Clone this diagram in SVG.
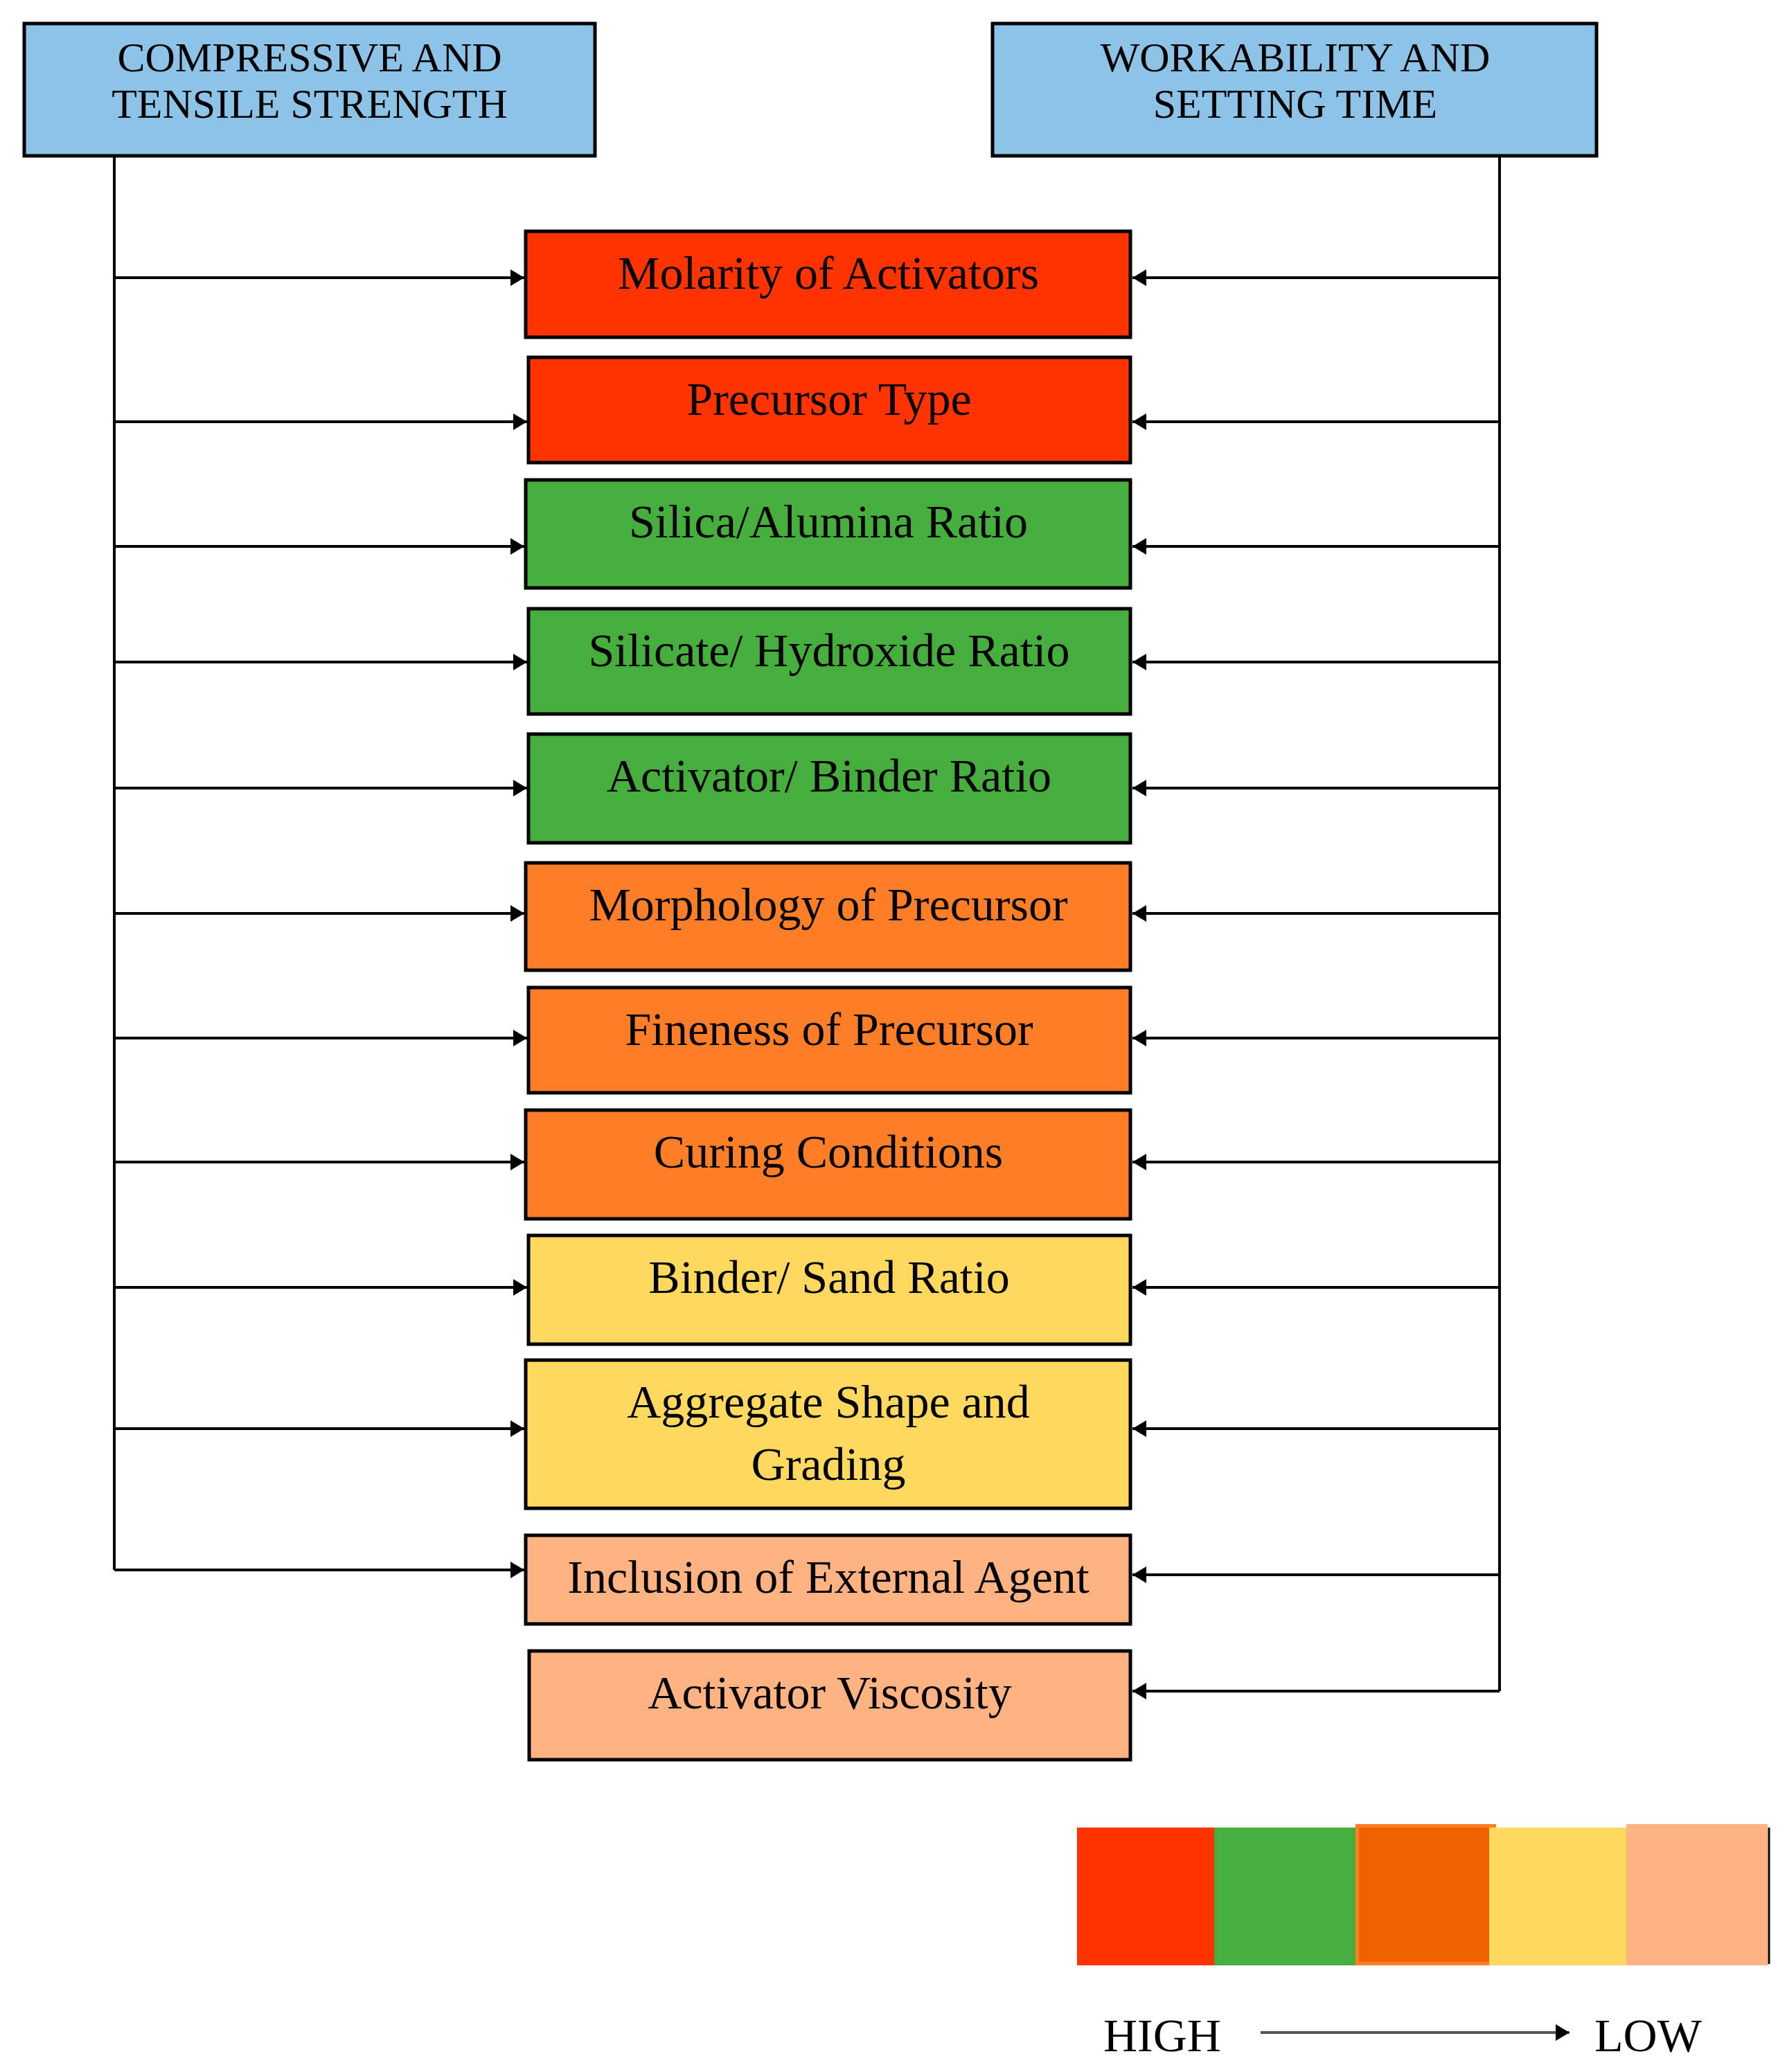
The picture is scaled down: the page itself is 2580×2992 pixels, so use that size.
<svg xmlns="http://www.w3.org/2000/svg" width="2580" height="2992" viewBox="0 0 2580 2992">
<style>
text{font-family:"Liberation Serif","Times New Roman",serif;fill:#000;text-anchor:middle}
.hdr rect{fill:#8DC3E6;stroke:#000;stroke-width:5}
.hdr text{font-size:60px}
.box rect{stroke:#000;stroke-width:5}
.box text{font-size:68px}
.red{fill:#FF3300}.green{fill:#46AE3C}.orange{fill:#FD7E27}.yellow{fill:#FFD95E}.peach{fill:#FFB282}
.conn line,.conn path{stroke:#000;stroke-width:4;fill:none}
.leg text{font-size:68px;text-anchor:start}
</style>
<defs>
<marker id="arr" markerUnits="userSpaceOnUse" markerWidth="22" markerHeight="26" refX="20" refY="12" orient="auto">
<path d="M0,0 L20,12 L0,24 Z" fill="#000"/>
</marker>
</defs>
<rect width="2580" height="2992" fill="#fff"/>
<g id="hdr-strength" class="hdr">
<rect x="35" y="34" width="824" height="191"/>
<text x="447" y="103">COMPRESSIVE AND</text>
<text x="447" y="170">TENSILE STRENGTH</text>
</g>
<g id="hdr-workability" class="hdr">
<rect x="1433" y="34" width="872" height="191"/>
<text x="1870" y="103">WORKABILITY AND</text>
<text x="1870" y="170">SETTING TIME</text>
</g>
<g id="connectors" class="conn">
<line x1="165" y1="225" x2="165" y2="2267"/>
<line x1="2165" y1="225" x2="2165" y2="2442"/>
<line x1="165" y1="401" x2="757" y2="401" marker-end="url(#arr)"/>
<line x1="165" y1="609" x2="761" y2="609" marker-end="url(#arr)"/>
<line x1="165" y1="789" x2="757" y2="789" marker-end="url(#arr)"/>
<line x1="165" y1="956" x2="761" y2="956" marker-end="url(#arr)"/>
<line x1="165" y1="1138" x2="761" y2="1138" marker-end="url(#arr)"/>
<line x1="165" y1="1319" x2="757" y2="1319" marker-end="url(#arr)"/>
<line x1="165" y1="1499" x2="761" y2="1499" marker-end="url(#arr)"/>
<line x1="165" y1="1678" x2="757" y2="1678" marker-end="url(#arr)"/>
<line x1="165" y1="1859" x2="761" y2="1859" marker-end="url(#arr)"/>
<line x1="165" y1="2063" x2="757" y2="2063" marker-end="url(#arr)"/>
<line x1="165" y1="2267" x2="757" y2="2267" marker-end="url(#arr)"/>
<line x1="2165" y1="401" x2="1635" y2="401" marker-end="url(#arr)"/>
<line x1="2165" y1="609" x2="1635" y2="609" marker-end="url(#arr)"/>
<line x1="2165" y1="789" x2="1635" y2="789" marker-end="url(#arr)"/>
<line x1="2165" y1="956" x2="1635" y2="956" marker-end="url(#arr)"/>
<line x1="2165" y1="1138" x2="1635" y2="1138" marker-end="url(#arr)"/>
<line x1="2165" y1="1319" x2="1635" y2="1319" marker-end="url(#arr)"/>
<line x1="2165" y1="1499" x2="1635" y2="1499" marker-end="url(#arr)"/>
<line x1="2165" y1="1678" x2="1635" y2="1678" marker-end="url(#arr)"/>
<line x1="2165" y1="1859" x2="1635" y2="1859" marker-end="url(#arr)"/>
<line x1="2165" y1="2063" x2="1635" y2="2063" marker-end="url(#arr)"/>
<line x1="2165" y1="2274" x2="1635" y2="2274" marker-end="url(#arr)"/>
<line x1="2165" y1="2442" x2="1635" y2="2442" marker-end="url(#arr)"/>
</g>
<g id="n-molarity" class="box"><rect class="red" x="759" y="334" width="873" height="153"/><text x="1196" y="417">Molarity of Activators</text></g>
<g id="n-precursor-type" class="box"><rect class="red" x="763" y="516" width="869" height="152"/><text x="1197" y="599">Precursor Type</text></g>
<g id="n-silica-alumina" class="box"><rect class="green" x="759" y="693" width="873" height="156"/><text x="1196" y="776">Silica/Alumina Ratio</text></g>
<g id="n-silicate-hydroxide" class="box"><rect class="green" x="763" y="879" width="869" height="152"/><text x="1197" y="962">Silicate/ Hydroxide Ratio</text></g>
<g id="n-activator-binder" class="box"><rect class="green" x="763" y="1060" width="869" height="157"/><text x="1197" y="1143">Activator/ Binder Ratio</text></g>
<g id="n-morphology" class="box"><rect class="orange" x="759" y="1246" width="873" height="155"/><text x="1196" y="1329">Morphology of Precursor</text></g>
<g id="n-fineness" class="box"><rect class="orange" x="763" y="1426" width="869" height="152"/><text x="1197" y="1509">Fineness of Precursor</text></g>
<g id="n-curing" class="box"><rect class="orange" x="759" y="1603" width="873" height="157"/><text x="1196" y="1686">Curing Conditions</text></g>
<g id="n-binder-sand" class="box"><rect class="yellow" x="763" y="1784" width="869" height="157"/><text x="1197" y="1867">Binder/ Sand Ratio</text></g>
<g id="n-aggregate" class="box"><rect class="yellow" x="759" y="1964" width="873" height="214"/><text x="1196" y="2047">Aggregate Shape and</text><text x="1196" y="2137">Grading</text></g>
<g id="n-inclusion" class="box"><rect class="peach" x="759" y="2217" width="873" height="128"/><text x="1196" y="2300">Inclusion of External Agent</text></g>
<g id="n-viscosity" class="box"><rect class="peach" x="764" y="2384" width="868" height="157"/><text x="1198" y="2467">Activator Viscosity</text></g>
<g id="legend" class="leg">
<rect x="1555" y="2639" width="199" height="199" fill="#FF3300"/>
<rect x="1753" y="2639" width="205" height="199" fill="#46AE3C"/>
<rect x="1957" y="2634" width="203" height="204" fill="#FF7F27"/>
<rect x="1962" y="2639" width="188" height="194" fill="#F06200"/>
<rect x="2150" y="2639" width="199" height="199" fill="#FFD95E"/>
<rect x="2348" y="2634" width="204" height="204" fill="#FFB282"/>
<line x1="2554" y1="2639" x2="2554" y2="2836" stroke="#000" stroke-width="3"/>
<text x="1593" y="2962">HIGH</text>
<line x1="1820" y1="2935" x2="2266" y2="2935" stroke="#555" stroke-width="4" marker-end="url(#arr)"/>
<text x="2302" y="2962">LOW</text>
</g>
</svg>
